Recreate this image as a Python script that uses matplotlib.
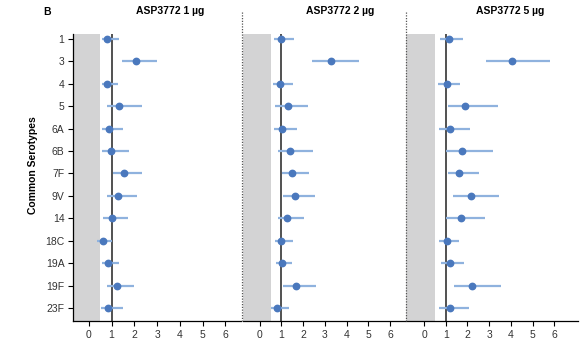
import matplotlib
matplotlib.use("Agg")
import matplotlib.pyplot as plt
from matplotlib.lines import Line2D

plt.rcParams['font.family'] = ['Liberation Sans', 'DejaVu Sans']

serotypes = ["1", "3", "4", "5", "6A", "6B", "7F", "9V", "14", "18C", "19A", "19F", "23F"]
titles = ["ASP3772 1 µg", "ASP3772 2 µg", "ASP3772 5 µg"]

est_1ug = [0.82, 2.08, 0.80, 1.32, 0.88, 0.99, 1.55, 1.27, 1.02, 0.64, 0.86, 1.23, 0.86]
lo_1ug = [0.57, 1.45, 0.57, 0.79, 0.57, 0.58, 1.05, 0.82, 0.64, 0.36, 0.57, 0.79, 0.54]
hi_1ug = [1.35, 3.01, 1.30, 2.34, 1.52, 1.78, 2.34, 2.11, 1.71, 1.01, 1.32, 1.99, 1.52]

est_2ug = [0.98, 3.27, 0.94, 1.29, 1.01, 1.41, 1.47, 1.63, 1.26, 1.00, 1.03, 1.66, 0.80]
lo_2ug = [0.68, 2.39, 0.60, 0.72, 0.65, 0.83, 1.04, 1.07, 0.83, 0.71, 0.74, 1.07, 0.51]
hi_2ug = [1.60, 4.57, 1.52, 2.23, 1.73, 2.47, 2.26, 2.55, 2.03, 1.55, 1.50, 2.61, 1.37]

est_5ug = [1.17, 4.07, 1.04, 1.90, 1.20, 1.75, 1.63, 2.15, 1.69, 1.04, 1.20, 2.23, 1.18]
lo_5ug = [0.75, 2.85, 0.66, 1.09, 0.71, 1.03, 1.09, 1.35, 1.01, 0.69, 0.77, 1.40, 0.71]
hi_5ug = [1.78, 5.80, 1.66, 3.39, 2.13, 3.18, 2.53, 3.47, 2.82, 1.60, 1.86, 3.53, 2.06]

panels = [(est_1ug, lo_1ug, hi_1ug), (est_2ug, lo_2ug, hi_2ug), (est_5ug, lo_5ug, hi_5ug)]
xticks = [0, 1, 2, 3, 4, 5, 6]
shade_end = 0.5
ref_value = 1

W, H = 587, 353
fig = plt.figure(figsize=(W / 100, H / 100), dpi=100)

# panel geometry in pixels: (left, right, xmin, xmax)
geo = [(73.5, 241.3, -0.67, 6.70), (242.5, 405.0, -0.79, 6.69), (406.0, 578.0, -0.83, 7.09)]
top_px, bot_px = 34, 321
title_x = [170, 340, 510]

ypos = list(range(len(serotypes)))
pt_color = "#4a78bd"
err_color = "#8fb2de"

for i, ((l, r, xmn, xmx), (est, lo, hi)) in enumerate(zip(geo, panels)):
    ax = fig.add_axes([l / W, 1 - bot_px / H, (r - l) / W, (bot_px - top_px) / H])
    ax.set_xlim(xmn, xmx)
    ax.set_ylim(len(serotypes) - 1 + 0.58, -0.22)
    ax.axvspan(xmn, shade_end, color="#d3d3d4", lw=0, zorder=0)
    ax.axvline(ref_value, color="#222222", lw=1.1, zorder=1)
    ax.hlines(ypos, lo, hi, color=err_color, lw=1.6, zorder=2)
    ax.plot(est, ypos, 'o', color=pt_color, ms=4.6, zorder=3)
    ax.set_xticks(xticks)
    ax.set_xticklabels([str(t) for t in xticks], fontsize=7.5, color="#333333")
    ax.tick_params(axis='x', length=3.5, width=0.8, pad=3)
    for s in ["top", "right"]:
        ax.spines[s].set_visible(False)
    ax.spines["bottom"].set_linewidth(0.9)
    if i == 0:
        ax.set_yticks(ypos)
        ax.set_yticklabels(serotypes, fontsize=7.5, color="#333333")
        ax.tick_params(axis='y', length=3.5, width=0.8, pad=3)
        ax.spines["left"].set_linewidth(0.9)
    else:
        ax.set_yticks([])
        ax.spines["left"].set_visible(False)
    fig.text(title_x[i] / W, 1 - 11 / H, titles[i], ha="center", va="center",
             fontsize=7.5, fontweight="bold")

for xp in [241.5, 405.5]:
    fig.add_artist(Line2D([xp / W, xp / W], [1 - 12 / H, 1 - bot_px / H],
                          transform=fig.transFigure, color="#555555", lw=0.9,
                          linestyle=(0, (1, 1.2))))

fig.text(47 / W, 1 - 12 / H, "B", ha="center", va="center", fontsize=7.5, fontweight="bold")
fig.text(33 / W, 1 - 165 / H, "Common Serotypes", rotation=90, ha="center", va="center",
         fontsize=7.5, fontweight="bold")

fig.savefig("out.png", dpi=100)
